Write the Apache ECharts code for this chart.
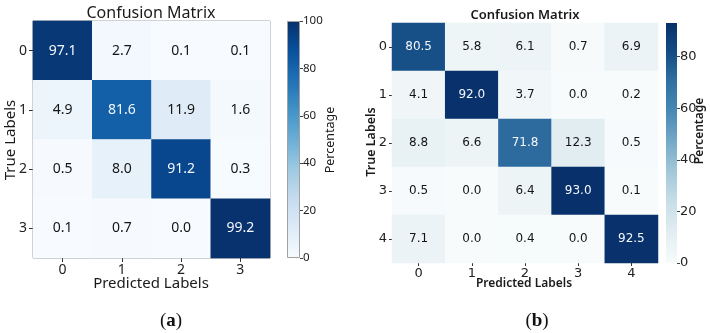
<!DOCTYPE html>
<html>
<head>
<meta charset="utf-8">
<script src="https://cdn.jsdelivr.net/npm/echarts@6/dist/echarts.min.js"></script>
<style>html,body{margin:0;padding:0;background:#fff}#c{width:710px;height:333px}</style>
</head>
<body>
<div id="c"></div>
<script>
// ---- data ----
var labelsA = ['0', '1', '2', '3'];
var matrixA = [
  [97.1, 2.7, 0.1, 0.1],
  [4.9, 81.6, 11.9, 1.6],
  [0.5, 8.0, 91.2, 0.3],
  [0.1, 0.7, 0.0, 99.2]
];
var labelsB = ['0', '1', '2', '3', '4'];
var matrixB = [
  [80.5, 5.8, 6.1, 0.7, 6.9],
  [4.1, 92.0, 3.7, 0.0, 0.2],
  [8.8, 6.6, 71.8, 12.3, 0.5],
  [0.5, 0.0, 6.4, 93.0, 0.1],
  [7.1, 0.0, 0.4, 0.0, 92.5]
];
var scaleMaxA = 100;
var scaleMaxB = 93.0;
var cbTicksA = [0, 20, 40, 60, 80, 100];
var cbTicksB = [0, 20, 40, 60, 80];
var titleText = 'Confusion Matrix';
var xName = 'Predicted Labels';
var yName = 'True Labels';
var cbName = 'Percentage';

var colorsA = ['#f7fbff', '#deebf7', '#c6dbef', '#9ecae1', '#6baed6', '#4292c6', '#2171b5', '#08519c', '#08306b'];
var colorsB = ['#f7fbfc', '#e3eef2', '#c9dfe8', '#a5c9da', '#78abc8', '#4a8ab5', '#3272a3', '#154d84', '#08306b'];

function buildData(m, max) {
  var out = [];
  for (var r = 0; r < m.length; r++) {
    for (var c = 0; c < m[r].length; c++) {
      var v = m[r][c];
      out.push({ value: [c, r, v], label: { color: v > max * 0.55 ? '#f4f7fb' : '#151515' } });
    }
  }
  return out;
}
function gradient(colors) {
  var stops = colors.map(function (col, i) { return { offset: i / (colors.length - 1), color: col }; });
  return new echarts.graphic.LinearGradient(0, 1, 0, 0, stops);
}

var chart = echarts.init(document.getElementById('c'), null, { renderer: 'canvas' });
var FA = 'Noto Sans';
var FB = 'DejaVu Sans';

var option = {
  backgroundColor: '#fff',
  animation: false,
  grid: [
    { left: 33, top: 21, width: 237, height: 237, show: true, borderColor: '#8c8c8c', borderWidth: 1, backgroundColor: 'transparent' },
    { left: 287, top: 21, width: 13, height: 237 },
    { left: 392, top: 23, width: 266, height: 240 },
    { left: 666, top: 23, width: 11, height: 240 }
  ],
  xAxis: [
    { gridIndex: 0, type: 'category', data: labelsA, position: 'bottom',
      axisLine: { show: false }, axisTick: { show: true, alignWithLabel: true, length: 4, lineStyle: { color: '#333' } },
      axisLabel: { fontFamily: FA, fontSize: 14, color: '#222', margin: 5 }, splitLine: { show: false } },
    { gridIndex: 1, type: 'category', data: [''], show: false },
    { gridIndex: 2, type: 'category', data: labelsB, position: 'bottom',
      axisLine: { show: false }, axisTick: { show: true, alignWithLabel: true, length: 3, lineStyle: { color: '#333' } },
      axisLabel: { fontFamily: FB, fontSize: 13, color: '#222', margin: 4 }, splitLine: { show: false } },
    { gridIndex: 3, type: 'category', data: [''], show: false }
  ],
  yAxis: [
    { gridIndex: 0, type: 'category', data: labelsA, inverse: true,
      axisLine: { show: false }, axisTick: { show: true, alignWithLabel: true, length: 4, lineStyle: { color: '#333' } },
      axisLabel: { fontFamily: FA, fontSize: 14, color: '#222', margin: 6 }, splitLine: { show: false } },
    { gridIndex: 1, type: 'value', position: 'right', min: 0, max: scaleMaxA, interval: 20,
      axisLine: { show: false }, splitLine: { show: false },
      axisTick: { show: true, length: 3, lineStyle: { color: '#444' }, customValues: cbTicksA },
      axisLabel: { fontFamily: FA, fontSize: 11.5, color: '#222', margin: 3, customValues: cbTicksA } },
    { gridIndex: 2, type: 'category', data: labelsB, inverse: true,
      axisLine: { show: false }, axisTick: { show: true, alignWithLabel: true, length: 3, lineStyle: { color: '#333' } },
      axisLabel: { fontFamily: FB, fontSize: 13, color: '#222', margin: 5 }, splitLine: { show: false } },
    { gridIndex: 3, type: 'value', position: 'right', min: 0, max: scaleMaxB, interval: 20,
      axisLine: { show: false }, splitLine: { show: false },
      axisTick: { show: true, length: 3, lineStyle: { color: '#444' }, customValues: cbTicksB },
      axisLabel: { fontFamily: FB, fontSize: 13, color: '#222', margin: 3, customValues: cbTicksB } }
  ],
  visualMap: [
    { show: false, type: 'continuous', min: 0, max: scaleMaxA, seriesIndex: 0, inRange: { color: colorsA } },
    { show: false, type: 'continuous', min: 0, max: scaleMaxB, seriesIndex: 2, inRange: { color: colorsB } }
  ],
  series: [
    { type: 'heatmap', xAxisIndex: 0, yAxisIndex: 0, data: buildData(matrixA, scaleMaxA),
      label: { show: true, fontFamily: FA, fontSize: 14, formatter: function (p) { return p.value[2].toFixed(1); } },
      itemStyle: { borderWidth: 0 }, emphasis: { disabled: true } },
    { type: 'bar', xAxisIndex: 1, yAxisIndex: 1, data: [scaleMaxA], barWidth: '100%',
      itemStyle: { color: gradient(colorsA), borderColor: '#a0a0a0', borderWidth: 1 }, emphasis: { disabled: true } },
    { type: 'heatmap', xAxisIndex: 2, yAxisIndex: 2, data: buildData(matrixB, scaleMaxB),
      label: { show: true, fontFamily: FB, fontSize: 12, formatter: function (p) { return p.value[2].toFixed(1); } },
      itemStyle: { borderWidth: 0 }, emphasis: { disabled: true } },
    { type: 'bar', xAxisIndex: 3, yAxisIndex: 3, data: [scaleMaxB], barWidth: '100%',
      itemStyle: { color: gradient(colorsB) }, emphasis: { disabled: true } }
  ],
  graphic: [
    { type: 'text', x: 151, y: 13, style: { text: titleText, font: '16px "Noto Sans"', fill: '#1a1a1a', align: 'center', verticalAlign: 'middle' } },
    { type: 'text', x: 151, y: 284, style: { text: xName, font: '15px "Noto Sans"', fill: '#1a1a1a', align: 'center', verticalAlign: 'middle' } },
    { type: 'text', x: 11, y: 140, rotation: Math.PI / 2, style: { text: yName, font: '15px "Noto Sans"', fill: '#1a1a1a', align: 'center', verticalAlign: 'middle' } },
    { type: 'text', x: 330, y: 140, rotation: Math.PI / 2, style: { text: cbName, font: '12.5px "Noto Sans"', fill: '#1a1a1a', align: 'center', verticalAlign: 'middle' } },
    { type: 'text', x: 525, y: 15, style: { text: titleText, font: '600 13px "Noto Sans"', fill: '#1a1a1a', align: 'center', verticalAlign: 'middle' } },
    { type: 'text', x: 524, y: 284, style: { text: xName, font: '600 12px "Noto Sans"', fill: '#1a1a1a', align: 'center', verticalAlign: 'middle' } },
    { type: 'text', x: 371, y: 142, rotation: Math.PI / 2, style: { text: yName, font: '600 12.5px "Noto Sans"', fill: '#1a1a1a', align: 'center', verticalAlign: 'middle' } },
    { type: 'text', x: 700, y: 131, rotation: Math.PI / 2, style: { text: cbName, font: '600 12px "Noto Sans"', fill: '#1a1a1a', align: 'center', verticalAlign: 'middle' } },
    { type: 'text', x: 171, y: 321, style: { text: '({b|a})', font: '19px "Liberation Serif"', fill: '#111', align: 'center', verticalAlign: 'middle', rich: { b: { fontWeight: 'bold', fontFamily: 'Liberation Serif', fontSize: 19 } } } },
    { type: 'text', x: 537, y: 321, style: { text: '({b|b})', font: '19px "Liberation Serif"', fill: '#111', align: 'center', verticalAlign: 'middle', rich: { b: { fontWeight: 'bold', fontFamily: 'Liberation Serif', fontSize: 19 } } } }
  ]
};
chart.setOption(option);
</script>
</body>
</html>
